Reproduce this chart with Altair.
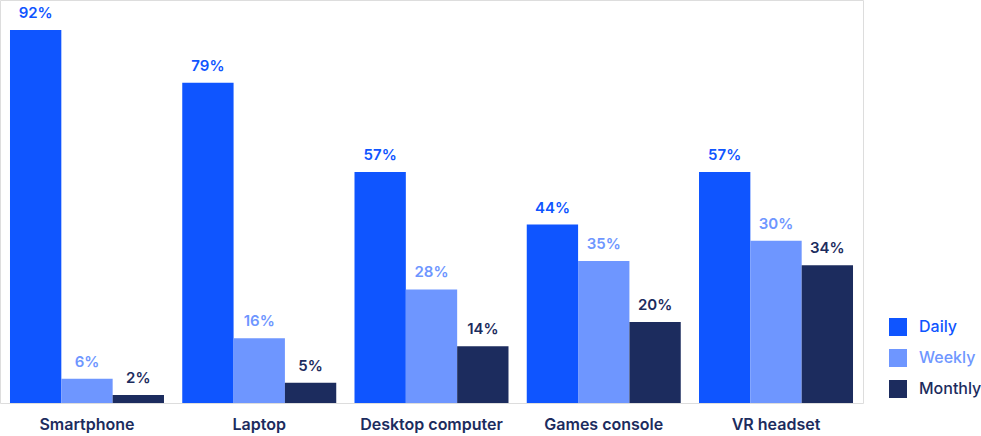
import altair as alt
import pandas as pd

categories = ["Smartphone", "Laptop", "Desktop computer", "Games console", "VR headset"]
series = ["Daily", "Weekly", "Monthly"]
daily = [92, 79, 57, 44, 57]
weekly = [6, 16, 28, 35, 40]
monthly = [2, 5, 14, 20, 34]
daily_labels = ["92%", "79%", "57%", "44%", "57%"]
weekly_labels = ["6%", "16%", "28%", "35%", "30%"]
monthly_labels = ["2%", "5%", "14%", "20%", "34%"]
colors = ["#0F55FF", "#6E96FF", "#1C2C5E"]

rows = []
for vals, labs, s in [(daily, daily_labels, "Daily"), (weekly, weekly_labels, "Weekly"), (monthly, monthly_labels, "Monthly")]:
    for c, v, l in zip(categories, vals, labs):
        rows.append({"category": c, "series": s, "value": v, "label": l})
df = pd.DataFrame(rows)

FONT = "Inter"
NAVY = "#1C2C5E"

color = alt.Color(
    "series:N",
    scale=alt.Scale(domain=series, range=colors),
    sort=series,
    legend=alt.Legend(
        title=None,
        orient="none",
        legendX=889,
        legendY=318,
        symbolType="square",
        symbolSize=324,
        symbolStrokeWidth=0,
        symbolOpacity=1,
        labelFont=FONT,
        labelFontSize=16,
        labelFontWeight=500,
        labelOffset=12,
        rowPadding=13,
        labelColor=alt.ExprRef(expr="datum.label == 'Daily' ? '#0F55FF' : datum.label == 'Weekly' ? '#6E96FF' : '#1C2C5E'"),
    ),
)

x = alt.X(
    "category:N",
    sort=categories,
    scale=alt.Scale(paddingInner=0.106, paddingOuter=0.058),
    axis=alt.Axis(
        title=None,
        labelAngle=0,
        labelFont=FONT,
        labelFontSize=16,
        labelFontWeight=600,
        labelColor=NAVY,
        domain=False,
        ticks=False,
        labelPadding=13,
    ),
)
xoff = alt.XOffset("series:N", sort=series, scale=alt.Scale(domain=series, paddingInner=0, paddingOuter=0))
y = alt.Y("value:Q", scale=alt.Scale(domain=[0, 99.4], nice=False), axis=None)

base = alt.Chart(df).encode(x=x, xOffset=xoff, y=y)
bars = base.mark_bar().encode(color=color)
text = base.mark_text(baseline="bottom", dy=-9, font=FONT, fontSize=15, fontWeight=600).encode(
    text="label:N", color=alt.Color("series:N", scale=alt.Scale(domain=series, range=colors), legend=None)
)

chart = alt.layer(bars, text).properties(
    width=863,
    height=403,
    autosize=alt.AutoSizeParams(type="none"),
    padding={"left": 0, "top": 0, "right": 118, "bottom": 33},
).configure_view(stroke=None, strokeWidth=0).configure(background="white")

chart.save("out.html", embed_options={"renderer": "svg", "actions": False})
